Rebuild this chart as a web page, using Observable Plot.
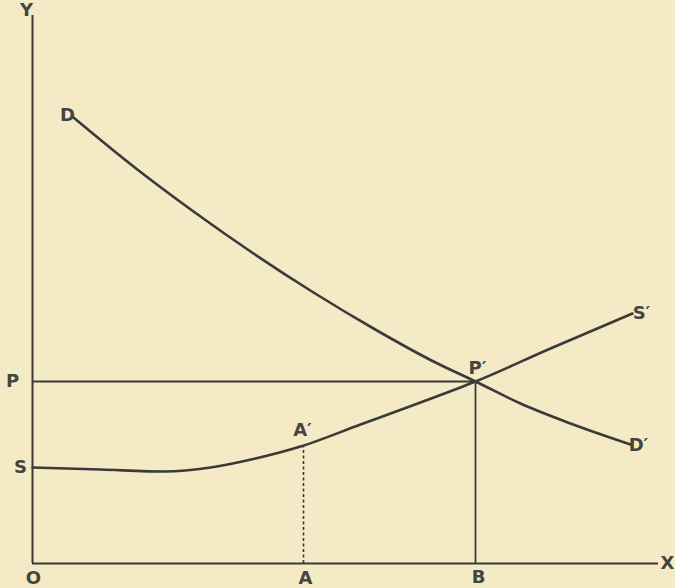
<!DOCTYPE html>
<html>
<head>
<meta charset="utf-8">
<script src="https://cdn.jsdelivr.net/npm/d3@7"></script>
<script src="https://cdn.jsdelivr.net/npm/@observablehq/plot@0.6"></script>
<style>
  html, body { margin: 0; padding: 0; background: #f4ebc6; }
</style>
</head>
<body>
<div id="chart"></div>
<script>
// Demand curve D → D′ (quantity, price), origin at O
const demandX = [41, 101, 161, 221, 281, 341, 401, 443, 488, 538, 598];
const demandY = [446, 397, 352, 310, 271, 235, 202, 182, 160, 140, 119];
// Supply curve S → S′
const supplyX = [0, 68, 133, 178, 223, 268, 328, 388, 443, 518, 600];
const supplyY = [96, 94, 92, 96, 105, 117, 139, 161, 182, 215, 250];
// Key levels
const priceP = 182;      // P
const qtyA = 271;        // A
const priceA = 118;      // A′ height
const qtyB = 443;        // B
const axisYTop = 548;
const axisXEnd = 626;
// Labels
const labelText = ["Y", "X", "O", "A", "B", "P", "S", "D", "S′", "D′", "P′", "A′"];
const labelX = [-6, 635, 1, 273, 446, -20, -12, 35, 609, 606, 445, 270];
const labelY = [553, 0, -15, -15, -14, 182, 96, 448, 250, 118, 195, 133];

const demand = demandX.map((x, i) => ({x, y: demandY[i]}));
const supply = supplyX.map((x, i) => ({x, y: supplyY[i]}));
const labels = labelText.map((t, i) => ({t, x: labelX[i], y: labelY[i]}));

const ink = "#3a3b36";

const chart = Plot.plot({
  width: 675,
  height: 588,
  margin: 0,
  style: {background: "#f4ebc6"},
  x: {domain: [-32, 643], axis: null},
  y: {domain: [-25, 563], axis: null},
  marks: [
    Plot.ruleX([0], {y1: 0, y2: axisYTop, stroke: ink, strokeWidth: 2}),
    Plot.ruleY([0], {x1: 0, x2: axisXEnd, stroke: ink, strokeWidth: 2}),
    Plot.ruleY([priceP], {x1: 0, x2: qtyB, stroke: ink, strokeWidth: 1.8}),
    Plot.ruleX([qtyB], {y1: 0, y2: priceP, stroke: ink, strokeWidth: 1.8}),
    Plot.ruleX([qtyA], {y1: 0, y2: priceA, stroke: ink, strokeWidth: 1.6, strokeDasharray: "3,2.5"}),
    Plot.line(demand, {x: "x", y: "y", curve: "monotone-x", stroke: ink, strokeWidth: 2.6}),
    Plot.line(supply, {x: "x", y: "y", curve: "monotone-x", stroke: ink, strokeWidth: 2.6}),
    Plot.text(labels, {x: "x", y: "y", text: "t", fill: "#44453f", fontSize: 18,
      fontFamily: "DejaVu Sans", fontWeight: "bold", textAnchor: "middle", lineAnchor: "middle"})
  ]
});
document.getElementById("chart").appendChild(chart);
</script>
</body>
</html>
